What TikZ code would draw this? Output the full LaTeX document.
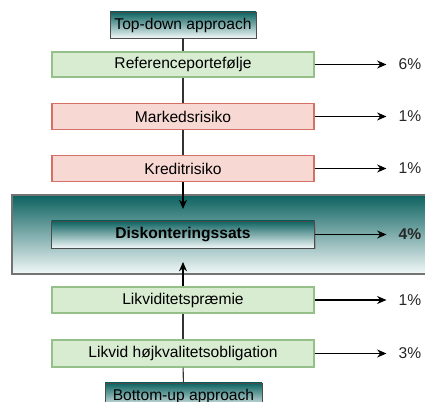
\documentclass[tikz,border=0pt]{standalone}
\usepackage{fontspec}
\setmainfont{Liberation Sans}
\usetikzlibrary{arrows.meta, positioning, shadows}
\usepackage{xcolor}
\definecolor{tealdark}{RGB}{12,98,96}
\definecolor{teallight}{RGB}{242,248,248}
\definecolor{greenfill}{RGB}{216,236,210}
\definecolor{greenline}{RGB}{150,192,138}
\definecolor{redfill}{RGB}{248,216,211}
\definecolor{redline}{RGB}{212,112,102}
\tikzset{
  stepgreen/.style = {draw=greenline, fill=greenfill, line width=0.9pt,
                      minimum width=262*0.75pt, minimum height=25*0.75pt, inner sep=0pt},
  stepred/.style   = {draw=redline, fill=redfill, line width=0.9pt,
                      minimum width=262*0.75pt, minimum height=26*0.75pt, inner sep=0pt},
  approach/.style  = {draw=black!70, top color=tealdark, bottom color=teallight,
                      line width=0.6pt, minimum height=26*0.75pt, inner sep=0pt,
                      drop shadow={opacity=0.35, shadow xshift=1pt, shadow yshift=-1pt}},
  pct/.style       = {font=\fontsize{11.7}{14}\selectfont, text=black!85, inner sep=2pt},
  link/.style      = {draw=black!80, line width=0.8pt},
  flow/.style      = {-{Stealth[length=7pt, width=6pt]}, draw=black, line width=0.8pt}
}
\begin{document}
\begin{tikzpicture}[x=0.75pt, y=-0.75pt, font=\fontsize{11.7}{14}\selectfont]
\clip (0,0) rectangle (425,402);
\fill[white] (0,0) rectangle (425,402);
% big target frame
\draw[draw=black!55, top color=tealdark, bottom color=teallight, line width=0.8pt]
  (12,195) rectangle (440,274);
\coordinate (din) at (183,209);
\coordinate (uin) at (183,262);

\node[approach, minimum width=146*0.75pt] (top) at (183,25) {Top-down approach};
\node[stepgreen] (ref) at (183,64.5) {Referenceportefølje};
\node[stepred] (mark) at (183,116.5) {Markedsrisiko};
\node[stepred] (kred) at (183,168.5) {Kreditrisiko};
\node[approach, minimum width=263*0.75pt, minimum height=27*0.75pt,
      drop shadow={opacity=0.3, shadow xshift=1pt, shadow yshift=-1pt}] (disk) at (183,234.5)
  {\textbf{Diskonteringssats}};
\node[stepgreen, minimum height=26*0.75pt] (likv) at (183,300) {Likviditetspræmie};
\node[stepgreen, minimum height=27*0.75pt] (oblig) at (183,353.5) {Likvid højkvalitetsobligation};
\node[approach, minimum width=157*0.75pt] (bottom) at (183.5,396) {Bottom-up approach};

% percentages
\node[pct] (p1) at (410,64.5) {6\%};
\node[pct] (p2) at (410,116.5) {1\%};
\node[pct] (p3) at (410,168.5) {1\%};
\node[pct, font=\fontsize{11.7}{14}\selectfont\bfseries] (p4) at (410,234.5) {4\%};
\node[pct] (p5) at (410,300) {1\%};
\node[pct] (p6) at (410,353.5) {3\%};

\draw[link] (top) -- (ref);
\draw[link] (ref) -- (mark);
\draw[link] (mark) -- (kred);
\draw[flow] (kred) -- (din);
\draw[flow] (likv) -- (uin);
\draw[link] (likv) -- (oblig);
\draw[link] (oblig) -- (bottom);

\foreach \b/\p in {ref/p1, mark/p2, kred/p3, disk/p4, likv/p5, oblig/p6}
  \draw[flow, shorten >=7pt] (\b.east) -- (\p.west);
\end{tikzpicture}
\end{document}
